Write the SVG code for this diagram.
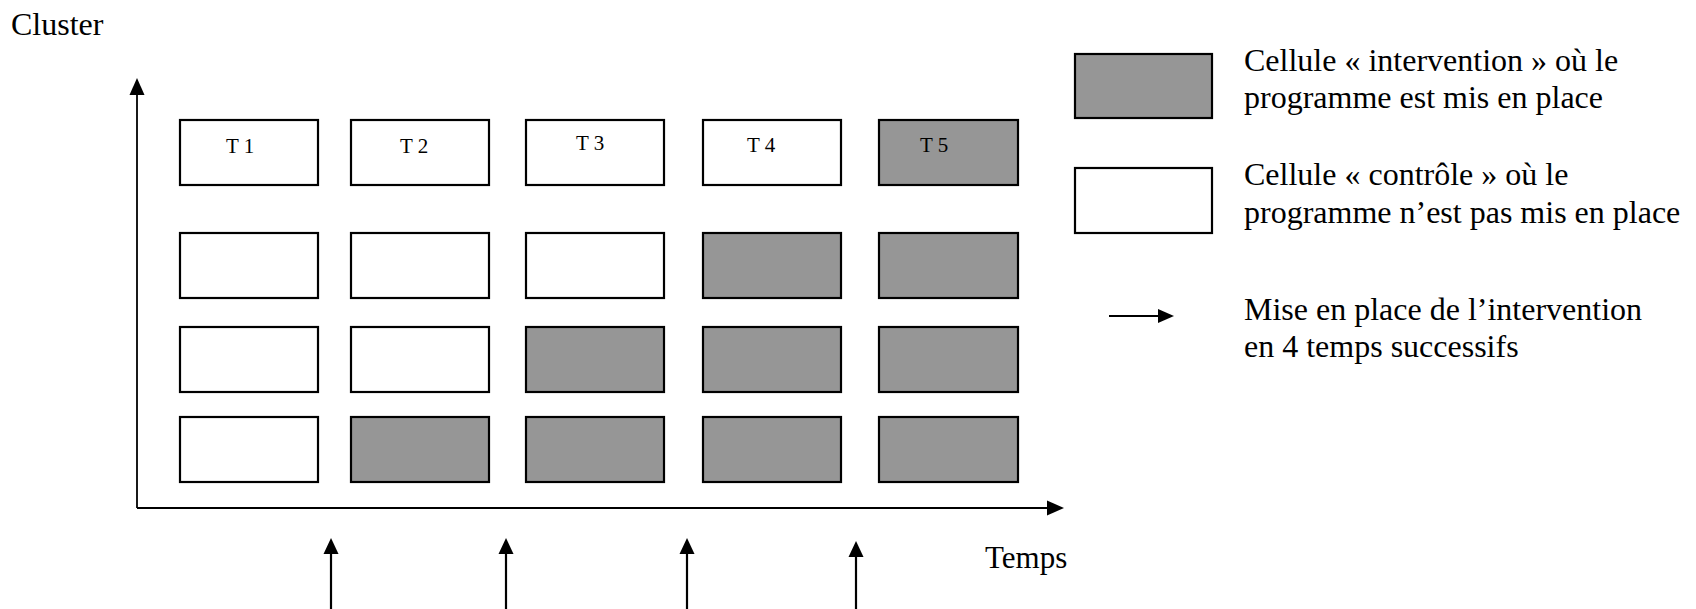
<svg xmlns="http://www.w3.org/2000/svg" width="1696" height="609" viewBox="0 0 1696 609">
<style>
.t{font-family:"Liberation Serif","Times New Roman",serif;fill:#000}
.lg{font-size:32px}
.tl{font-size:21px}
.c{stroke:#000;stroke-width:2.2}
.w{fill:#fff}
.g{fill:#969696}
.ax{stroke:#000;stroke-width:1.8;fill:none}
.ar{stroke:#000;stroke-width:2.2;fill:none}
.hd{fill:#000;stroke:none}
</style>
<rect width="1696" height="609" fill="#fff"/>
<g id="axis-labels">
<text class="t lg" x="11" y="35">Cluster</text>
<text class="t lg" x="985" y="568" style="font-size:31px">Temps</text>
</g>
<g id="connectors">
<line class="ax" x1="137" y1="508" x2="137" y2="92"/>
<polygon class="hd" points="137,78 129.5,95 144.5,95"/>
<line class="ax" x1="137" y1="508" x2="1049" y2="508"/>
<polygon class="hd" points="1064,508 1047,500.5 1047,515.5"/>
<line class="ar" x1="331" y1="609" x2="331" y2="551"/>
<polygon class="hd" points="331,538 323.5,554 338.5,554"/>
<line class="ar" x1="506" y1="609" x2="506" y2="551"/>
<polygon class="hd" points="506,538 498.5,554 513.5,554"/>
<line class="ar" x1="687" y1="609" x2="687" y2="551"/>
<polygon class="hd" points="687,538 679.5,554 694.5,554"/>
<line class="ar" x1="856" y1="609" x2="856" y2="554"/>
<polygon class="hd" points="856,541 848.5,557 863.5,557"/>
</g>
<g id="row1">
<g id="r1c1"><rect class="c w" x="180" y="120" width="138" height="65"/><text class="t tl" x="226" y="153">T 1</text></g>
<g id="r1c2"><rect class="c w" x="351" y="120" width="138" height="65"/><text class="t tl" x="400" y="153">T 2</text></g>
<g id="r1c3"><rect class="c w" x="526" y="120" width="138" height="65"/><text class="t tl" x="576" y="150">T 3</text></g>
<g id="r1c4"><rect class="c w" x="703" y="120" width="138" height="65"/><text class="t tl" x="747" y="152">T 4</text></g>
<g id="r1c5"><rect class="c g" x="879" y="120" width="139" height="65"/><text class="t tl" x="920" y="152">T 5</text></g>
</g>
<g id="row2">
<g id="r2c1"><rect class="c w" x="180" y="233" width="138" height="65"/></g>
<g id="r2c2"><rect class="c w" x="351" y="233" width="138" height="65"/></g>
<g id="r2c3"><rect class="c w" x="526" y="233" width="138" height="65"/></g>
<g id="r2c4"><rect class="c g" x="703" y="233" width="138" height="65"/></g>
<g id="r2c5"><rect class="c g" x="879" y="233" width="139" height="65"/></g>
</g>
<g id="row3">
<g id="r3c1"><rect class="c w" x="180" y="327" width="138" height="65"/></g>
<g id="r3c2"><rect class="c w" x="351" y="327" width="138" height="65"/></g>
<g id="r3c3"><rect class="c g" x="526" y="327" width="138" height="65"/></g>
<g id="r3c4"><rect class="c g" x="703" y="327" width="138" height="65"/></g>
<g id="r3c5"><rect class="c g" x="879" y="327" width="139" height="65"/></g>
</g>
<g id="row4">
<g id="r4c1"><rect class="c w" x="180" y="417" width="138" height="65"/></g>
<g id="r4c2"><rect class="c g" x="351" y="417" width="138" height="65"/></g>
<g id="r4c3"><rect class="c g" x="526" y="417" width="138" height="65"/></g>
<g id="r4c4"><rect class="c g" x="703" y="417" width="138" height="65"/></g>
<g id="r4c5"><rect class="c g" x="879" y="417" width="139" height="65"/></g>
</g>
<g id="legend-intervention">
<rect class="c g" x="1075" y="54" width="137" height="64"/>
<text class="t lg" x="1244" y="71">Cellule « intervention » où le</text>
<text class="t lg" x="1244" y="108">programme est mis en place</text>
</g>
<g id="legend-controle">
<rect class="c w" x="1075" y="168" width="137" height="65"/>
<text class="t lg" x="1244" y="185">Cellule « contrôle » où le</text>
<text class="t lg" x="1244" y="223">programme n’est pas mis en place</text>
</g>
<g id="legend-arrow">
<line class="ar" x1="1109" y1="316" x2="1160" y2="316"/>
<polygon class="hd" points="1174,316 1158,309 1158,323"/>
<text class="t lg" x="1244" y="320">Mise en place de l’intervention</text>
<text class="t lg" x="1244" y="357">en 4 temps successifs</text>
</g>
</svg>
